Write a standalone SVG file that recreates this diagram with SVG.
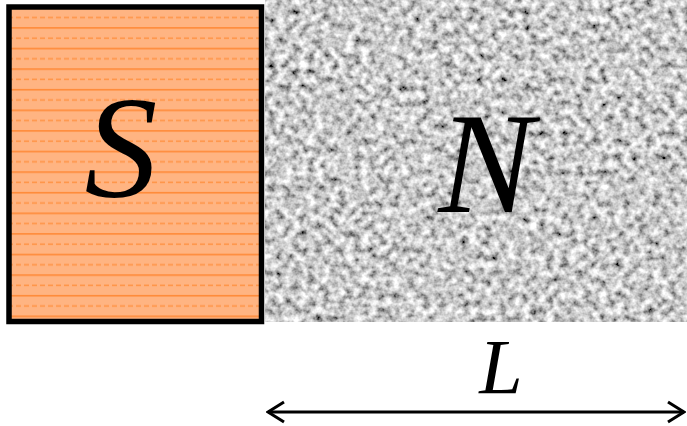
<svg xmlns="http://www.w3.org/2000/svg" width="687" height="426" viewBox="0 0 687 426">
  <style>
    .lbl { font-family: "Liberation Serif", "Times New Roman", serif; font-style: italic; fill: #000; text-anchor: middle; }
    .conn { stroke: #000; stroke-width: 3; fill: none; }
  </style>
  <defs>
    <pattern id="stripes" patternUnits="userSpaceOnUse" x="0" y="6.5" width="8" height="20.6">
      <rect width="8" height="20.6" fill="#FFB482"/>
      <rect y="0" width="8" height="1.6" fill="#FF8A38"/>
      <rect y="10.3" width="5" height="1.6" fill="#FF9548"/>
    </pattern>
    <filter id="noise" x="0" y="0" width="100%" height="100%" filterUnits="objectBoundingBox">
      <feTurbulence type="fractalNoise" baseFrequency="0.13" numOctaves="3" seed="7" result="t"/>
      <feColorMatrix in="t" type="matrix" values="1.6 0 0 0 -0.21  1.6 0 0 0 -0.21  1.6 0 0 0 -0.21  0 0 0 0 1"/>
    </filter>
    <marker id="chev" viewBox="0 0 20 24" refX="18" refY="12" markerWidth="20" markerHeight="24" markerUnits="userSpaceOnUse" orient="auto-start-reverse">
      <path d="M2,2 L18,12 L2,22" fill="none" stroke="#000" stroke-width="3"/>
    </marker>
  </defs>
  <rect width="687" height="426" fill="#fff"/>
  <g id="N-region">
    <rect x="265" y="0" width="422" height="322" fill="#a8a8a8" filter="url(#noise)"/>
    <text class="lbl" x="486" y="212" font-size="143">N</text>
  </g>
  <g id="S-region">
    <rect x="9" y="7" width="252.5" height="314.5" fill="url(#stripes)" stroke="#000" stroke-width="5.5"/>
    <text class="lbl" x="121" y="197" font-size="146">S</text>
  </g>
  <g id="connectors">
    <line class="conn" x1="268" y1="412" x2="684" y2="412" marker-start="url(#chev)" marker-end="url(#chev)"/>
  </g>
  <g id="L-label">
    <text class="lbl" x="501" y="393" font-size="78">L</text>
  </g>
</svg>
